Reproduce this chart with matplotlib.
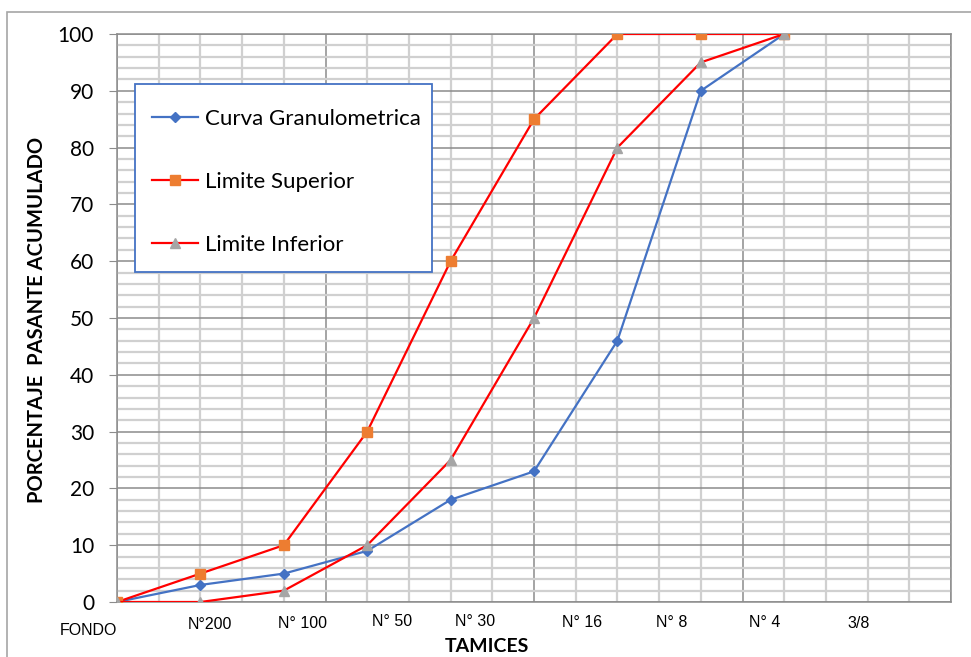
import matplotlib
matplotlib.use('Agg')

import matplotlib.pyplot as plt
import matplotlib.patches as mpatches
import matplotlib.transforms as mtransforms
from matplotlib.ticker import MultipleLocator

# ---- data
sieve_pos = [0, 1, 2, 3, 4, 5, 6, 7, 8]
curva = [0, 3, 5, 9, 18, 23, 46, 90, 100]
lim_sup = [0, 5, 10, 30, 60, 85, 100, 100, 100]
lim_inf = [0, 0, 2, 10, 25, 50, 80, 95, 100]

sieve_labels = ['FONDO', 'N°200', 'N° 100', 'N° 50', 'N° 30',
                'N° 16', 'N° 8', 'N° 4', '3/8']
# label anchors (data x, axes y) -- hand placed like in the sheet
label_x = [-0.34, 1.12, 2.22, 3.30, 4.29, 5.58, 6.65, 7.77, 8.89]
label_y = [-0.051, -0.039, -0.037, -0.034, -0.034, -0.036, -0.036, -0.036, -0.038]

BLUE = '#4472C4'
RED = '#FF0000'
ORANGE = '#ED7D31'
GREY = '#A5A5A5'

W, H = 971, 657
fig = plt.figure(figsize=(W / 100, H / 100), dpi=100)
fig.patch.set_facecolor('white')

# outer chart-area frame
fig.patches.append(mpatches.Rectangle(
    (7 / W, -0.02), 1.05, 1 - 12 / H + 0.02, transform=fig.transFigure,
    fill=False, edgecolor='#A6A6A6', linewidth=1.2))

ax = fig.add_axes([117 / W, 1 - 602 / H, (951 - 117) / W, (602 - 34) / H])

ax.set_xlim(0, 10)
ax.set_ylim(0, 100)
ax.xaxis.set_major_locator(MultipleLocator(2.5))
ax.xaxis.set_minor_locator(MultipleLocator(0.5))
ax.yaxis.set_major_locator(MultipleLocator(10))
ax.yaxis.set_minor_locator(MultipleLocator(2))

ax.grid(which='minor', color='#D0D0D0', linewidth=1.6, zorder=0)
ax.grid(which='major', color='#8C8C8C', linewidth=1.1, zorder=0)
ax.set_axisbelow(True)

for s in ax.spines.values():
    s.set_color('#8C8C8C')
    s.set_linewidth(1.1)

ax.tick_params(axis='x', which='both', length=0, labelbottom=False)
ax.tick_params(axis='y', which='major', length=6, color='#8C8C8C',
               labelsize=15, pad=10.5)
ax.tick_params(axis='y', which='minor', length=0)
for t in ax.get_yticklabels():
    t.set_fontfamily('Lato')

ax.plot(sieve_pos, curva, color=BLUE, lw=1.6, marker='D', ms=5,
        mfc=BLUE, mec=BLUE, label='Curva Granulometrica', zorder=3)
ax.plot(sieve_pos, lim_sup, color=RED, lw=1.6, marker='s', ms=6.5,
        mfc=ORANGE, mec=ORANGE, label='Limite Superior', zorder=4)
ax.plot(sieve_pos, lim_inf, color=RED, lw=1.6, marker='^', ms=6.5,
        mfc=GREY, mec=GREY, label='Limite Inferior', zorder=5)

# sieve names under the axis
trans = mtransforms.blended_transform_factory(ax.transData, ax.transAxes)
for lbl, lx, ly in zip(sieve_labels, label_x, label_y):
    ax.text(lx, ly, lbl, transform=trans, ha='center', va='center',
            fontsize=11.5, fontfamily='Liberation Sans', clip_on=False)

fig.text(487 / W, 1 - 646 / H, 'TAMICES', ha='center', va='center',
         fontsize=14, fontweight='bold', fontfamily='Lato')
fig.text(37 / W, 1 - 320 / H, 'PORCENTAJE  PASANTE ACUMULADO',
         ha='center', va='center', rotation=90,
         fontsize=14.5, fontweight='bold', fontfamily='Lato')

# legend box drawn by hand so its padding can match the sheet
box = mpatches.Rectangle((135 / W, 1 - 272 / H), (432 - 135) / W, (272 - 84) / H,
                         transform=fig.transFigure, facecolor='white',
                         edgecolor=BLUE, linewidth=1.3, zorder=6)
ax.add_artist(box)
box.set_clip_on(False)

leg = ax.legend(loc='upper left', bbox_to_anchor=(0.0216, 0.898),
                prop={'family': 'Lato', 'size': 16},
                frameon=False, labelspacing=1.94,
                handlelength=2.1, borderpad=0.75, borderaxespad=0,
                handletextpad=0.3)
leg.set_zorder(7)

fig.savefig('out.png', dpi=100)
